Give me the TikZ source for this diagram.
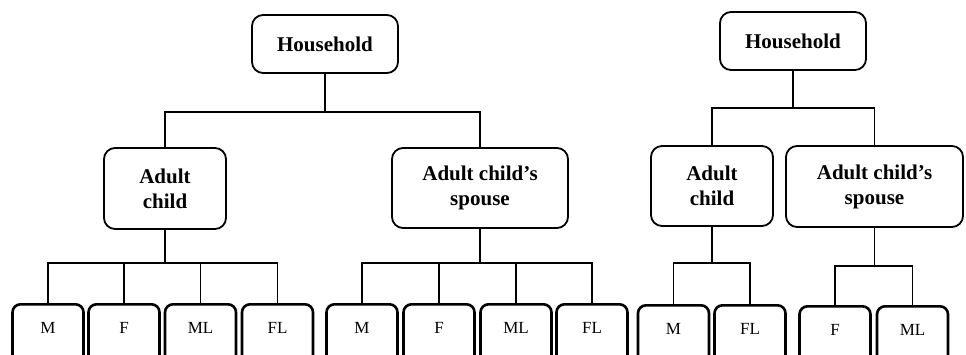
\documentclass[tikz,border=0pt]{standalone}
\usepackage{fontspec}
\setmainfont{Liberation Serif}
\usetikzlibrary{positioning}

\begin{document}
\begin{tikzpicture}[x=1pt, y=-1pt,
  box/.style={draw, line width=1.8pt, rounded corners=11pt, align=center,
    font=\fontsize{21}{25}\selectfont\bfseries, inner sep=0pt},
  leaf/.style={draw, line width=2.6pt, rounded corners=8pt, anchor=north,
    minimum width=71pt, inner xsep=0pt, inner ysep=4pt,
    text height=25pt, text depth=40pt, font=\fontsize{17}{20}\selectfont},
  link/.style={line width=1.5pt}]
\clip (0,0) rectangle (966,355);
% left tree
\node[box, minimum width=146pt, minimum height=58pt] (hh1) at (325,44) {Household};
\node[box, minimum width=122pt, minimum height=81pt] (ac1) at (165,188.5) {Adult\\child};
\node[box, minimum width=176pt, minimum height=80pt] (sp1) at (480,188) {Adult child’s\\spouse};
\coordinate (j1) at (325,112);
\draw[link] (hh1.south) -- (j1);
\draw[link] (ac1.north) |- (j1) -| (sp1.north);
% right tree
\node[box, minimum width=146pt, minimum height=58pt] (hh2) at (793,41) {Household};
\node[box, minimum width=122pt, minimum height=80pt] (ac2) at (712,186) {Adult\\child};
\node[box, minimum width=177pt, minimum height=81pt] (sp2) at (874.5,186.5) {Adult child’s\\spouse};
\coordinate (j2) at (793,108);
\draw[link] (hh2.south) -- (j2);
\draw[link] (ac2.north) |- (j2) -| (sp2.north);
% leaves under each adult
\foreach \x/\t [count=\n] in {48/M,124/F,200.5/ML,277.5/FL}
  \node[leaf] (la\n) at (\x,303) {\t};
\foreach \x/\t [count=\n] in {362/M,439/F,516/ML,592/FL}
  \node[leaf] (lb\n) at (\x,303) {\t};
\foreach \x/\t [count=\n] in {673.5/M,750/FL}
  \node[leaf] (lc\n) at (\x,304) {\t};
\foreach \x/\t [count=\n] in {835/F,912.5/ML}
  \node[leaf] (ld\n) at (\x,305) {\t};
\coordinate (ja) at (ac1.south |- 0,263);
\coordinate (jb) at (sp1.south |- 0,263);
\coordinate (jc) at (ac2.south |- 0,263);
\coordinate (jd) at (sp2.south |- 0,266);
\draw[link] (ac1.south) -- (ja);
\draw[link] (sp1.south) -- (jb);
\draw[link] (ac2.south) -- (jc);
\draw[link] (sp2.south) -- (jd);
\foreach \n in {1,...,4}{
  \draw[link] (la\n.north) |- (ja);
  \draw[link] (lb\n.north) |- (jb);
}
\foreach \n in {1,2}{
  \draw[link] (lc\n.north) |- (jc);
  \draw[link] (ld\n.north) |- (jd);
}
\end{tikzpicture}
\end{document}
